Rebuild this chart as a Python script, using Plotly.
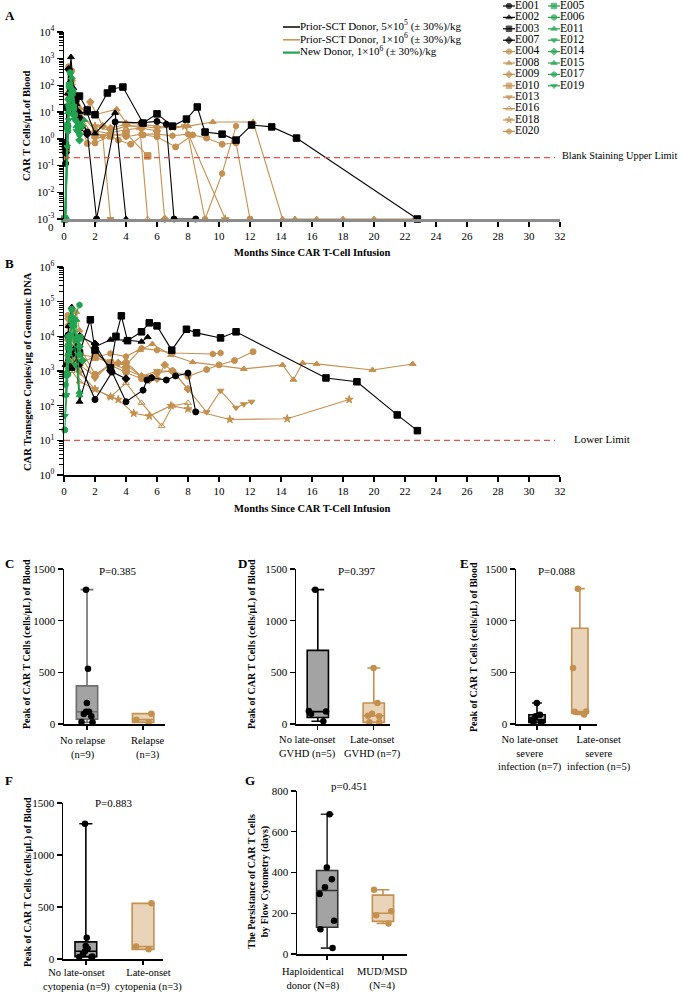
import numpy as np
import plotly.graph_objects as go

W, H = 681, 992
FONT = "Liberation Serif"
BLACK = "#000000"
TAN = "#c4904f"
GREEN = "#22a34f"
RED = "#e0534a"
BOX_GREY = "#a3a3a3"
BOX_TAN = "#e9d4b9"

BLANK_LIMIT = 0.2      # cells/uL, blank staining upper limit (panel A)
LOWER_LIMIT = 10       # copies/ug, lower limit (panel B)
ZERO_LEVEL = 1e-3      # undetectable (0) values sit on the "0" baseline of panel A

BLACK_IDS = ["E001", "E002", "E003", "E007"]
TAN_IDS = ["E004", "E008", "E009", "E010", "E013", "E016", "E018", "E020"]
GREEN_IDS = ["E005", "E006", "E011", "E012", "E014", "E015", "E017", "E019"]

# ---------------- Panel A: CAR T cells / uL of blood (months, value) ----------------
E001_A_t = [0.1, 0.25, 0.4, 0.55, 0.75, 1.0, 1.5, 2.1, 3.3, 5.0, 6.0, 6.6, 7.1, 8.5]
E001_A_v = [0.12, 3, 120, 60, 25, 6, 1.8, 0, 4.3, 4.0, 4.5, 3.5, 0, 0]
E002_A_t = [0.1, 0.25, 0.45, 0.6, 0.8, 1.0, 1.5, 2.0, 3.3, 4.0]
E002_A_v = [0.8, 50, 1150, 80, 20, 10, 9, 1.6, 9.4, 0]
E003_A_t = [0.1, 0.25, 0.5, 0.75, 1.0, 1.5, 2.0, 2.8, 3.1, 3.8, 5.1, 6.0, 7.0, 7.9, 8.6, 9.1, 10.2, 11.1, 12.1, 13.4, 15.0, 22.8]
E003_A_v = [0.5, 15, 25, 30, 40, 12, 8, 52, 74, 87, 3.9, 8.6, 3.0, 5.5, 15.6, 1.8, 1.5, 0.9, 3.3, 2.8, 1.07, 0]
E007_A_t = [0.1, 0.3, 0.5, 0.7, 1.0, 1.5]
E007_A_v = [0.3, 400, 50, 10, 2.5, 1.5]

E004_A_t = [0.1, 0.3, 0.5, 0.75, 1.0, 1.5, 2.0, 3.0, 3.5, 4.3, 5.1, 6.0, 7.2, 8.3, 9.2, 10.2, 11.1, 12.0]
E004_A_v = [0.3, 500, 350, 20, 5, 0.67, 0.7, 1.3, 0.9, 0.63, 1.4, 1.2, 0.5, 1.4, 1.07, 0.63, 0.7, 0]
E008_A_t = [0.1, 0.3, 0.5, 0.8, 1.0, 1.5, 2.0, 3.4, 4.0, 5.0, 6.0, 7.0, 8.0, 9.6, 12.2, 14.1, 14.9, 16.3, 18.0, 20.0, 22.6]
E008_A_v = [0.3, 60, 200, 30, 15, 10, 8, 13, 4, 3.5, 3, 2.5, 3, 4.3, 4.3, 0, 0, 0, 0, 0, 0]
E009_A_t = [0.1, 0.3, 0.5, 0.8, 1.0, 1.7, 2.5, 3.0, 4.0, 5.0, 6.0, 6.5]
E009_A_v = [0.5, 50, 150, 20, 6, 24, 3, 2.5, 3.5, 2.5, 2.0, 0]
E010_A_t = [0.15, 0.4, 0.7, 1.0, 2.0, 3.0, 4.0, 5.4]
E010_A_v = [0.4, 40, 10, 3, 1.5, 1.3, 1.6, 0.23]
E013_A_t = [0.1, 0.3, 0.5, 1.0, 2.0, 2.5, 3.0]
E013_A_v = [0.2, 30, 80, 8, 1.0, 1.2, 0]
E016_A_t = [0.1, 0.3, 0.6, 1.0, 2.0, 3.0, 4.0, 4.9, 5.4]
E016_A_v = [0.2, 15, 30, 4, 1.2, 1.7, 2.2, 2.5, 0]
E018_A_t = [0.1, 0.3, 0.5, 1.0, 2.0, 3.0, 4.0, 5.0, 6.0, 7.0, 7.8, 10.4]
E018_A_v = [0.3, 40, 100, 8, 3, 2, 3, 3, 2.5, 2.8, 3.0, 0]
E020_A_t = [0.1, 0.3, 0.5, 1.0, 2.0, 3.0, 4.0, 5.0, 6.0, 7.0, 8.0, 9.1, 10.2, 11.1]
E020_A_v = [0.2, 30, 90, 10, 2, 1.5, 1.2, 1.5, 1.5, 1.3, 1.5, 0, 0.05, 3.0]

E005_A_t = [0.05, 0.2, 0.35, 0.6, 1.0]
E005_A_v = [0, 3, 100, 15, 3]
E006_A_t = [0.05, 0.25, 0.4, 0.7, 1.0]
E006_A_v = [0, 2, 300, 8, 1.5]
E011_A_t = [0.1, 0.3, 0.5, 0.8, 1.2]
E011_A_v = [0, 20, 80, 5, 3.3]
E012_A_t = [0.05, 0.2, 0.4, 0.7]
E012_A_v = [0, 0.5, 50, 5]
E014_A_t = [0.1, 0.3, 0.6, 1.0]
E014_A_v = [0, 30, 8, 0.9]
E015_A_t = [0.1, 0.25, 0.5, 0.8, 1.3]
E015_A_v = [0, 10, 200, 3, 5]
E017_A_t = [0.1, 0.3, 0.6, 0.9, 1.1]
E017_A_v = [0, 15, 60, 2, 3]
E019_A_t = [0.1, 0.3, 0.5, 0.8]
E019_A_v = [0, 5, 40, 2]

# ---------------- Panel B: CAR transgene copies / ug genomic DNA ----------------
E001_B_t = [0.27, 0.5, 1.0, 2.0, 3.1, 4.0, 5.1, 5.35, 5.65, 6.6, 7.2, 8.0, 8.5]
E001_B_v = [11000, 4000, 1600, 150, 930, 130, 280, 550, 640, 550, 720, 870, 66]
E002_B_t = [0.1, 0.3, 0.5, 0.75, 1.0, 2.0, 3.0, 4.0, 5.0, 5.4]
E002_B_v = [1500, 20000, 70000, 5000, 130, 5000, 8000, 7800, 7000, 9500]
E003_B_t = [0.5, 1.0, 1.7, 2.0, 3.0, 3.35, 3.7, 4.1, 5.0, 5.5, 6.0, 6.95, 7.9, 8.55, 10.1, 11.1, 16.9, 18.9, 21.5, 22.8]
E003_B_v = [1300, 3300, 30000, 4000, 1240, 10000, 39000, 7500, 13500, 24500, 20000, 4000, 16000, 12600, 9000, 13500, 630, 490, 54, 19]
E007_B_t = [0.25, 0.5, 1.0, 2.0, 3.0, 4.0]
E007_B_v = [10000, 3000, 10000, 6000, 1000, 600]

E004_B_t = [0.25, 0.5, 1.0, 2.0, 3.0, 4.0, 5.0, 6.0, 7.0, 8.0, 9.2, 10.0, 11.0, 12.2]
E004_B_v = [40000, 10000, 5000, 800, 1500, 900, 600, 900, 1000, 700, 1100, 1500, 2000, 3600]
E008_B_t = [0.25, 0.5, 0.8, 1.0, 2.0, 3.0, 4.0, 4.9, 5.7, 6.9, 8.3, 11.6, 14.1, 14.8, 15.4, 16.3, 19.9, 22.5]
E008_B_v = [2000, 10000, 50000, 15000, 3000, 1800, 1500, 4000, 6000, 2900, 1800, 1150, 1500, 560, 1700, 1600, 1070, 1600]
E009_B_t = [0.25, 0.5, 1.0, 2.0, 3.0, 3.5, 4.0, 5.0, 5.5, 6.0, 6.5, 7.0, 8.0]
E009_B_v = [8000, 3000, 1500, 700, 1700, 1700, 1800, 700, 550, 600, 1500, 1000, 300]
E010_B_t = [0.25, 0.5, 1.0, 2.0, 3.0, 4.0, 5.4]
E010_B_v = [1500, 2000, 1800, 2500, 1700, 1100, 600]
E013_B_t = [0.25, 0.5, 1.0, 2.0, 3.0, 4.0, 5.0, 6.0, 7.0, 8.0, 9.2, 10.1, 11.1, 11.6, 12.1]
E013_B_v = [30000, 8000, 3000, 600, 1700, 1500, 700, 1000, 1000, 300, 65, 270, 87, 110, 130]
E016_B_t = [0.25, 0.5, 1.0, 2.0, 3.0, 4.0, 5.0, 6.3, 7.0, 8.0]
E016_B_v = [3000, 1000, 500, 300, 180, 450, 120, 26, 100, 120]
E018_B_t = [0.25, 0.5, 1.0, 2.0, 3.0, 3.5, 4.5, 5.5, 6.9, 8.0, 10.7, 14.4, 18.4]
E018_B_v = [5000, 2500, 900, 300, 180, 150, 60, 50, 100, 80, 40, 42, 150]
E020_B_t = [0.25, 0.5, 1.0, 2.0, 3.0, 4.0, 5.0, 6.0, 7.0, 9.6, 10.1]
E020_B_v = [20000, 5000, 3000, 2500, 3200, 2600, 4500, 4000, 3300, 3100, 3300]

E005_B_t = [0.1, 0.3, 0.5, 0.8, 1.0]
E005_B_v = [800, 5000, 30000, 8000, 9000]
E006_B_t = [0.05, 0.25, 0.5, 1.0]
E006_B_v = [20, 800, 60000, 3000]
E011_B_t = [0.1, 0.3, 0.5, 1.0]
E011_B_v = [800, 3000, 40000, 200]
E012_B_t = [0.05, 0.15, 0.3, 0.5]
E012_B_v = [50, 200, 3000, 20000]
E014_B_t = [0.1, 0.3, 0.6, 1.0, 1.2]
E014_B_v = [800, 10000, 20000, 5000, 2000]
E015_B_t = [0.1, 0.3, 0.5, 0.8, 1.0]
E015_B_v = [200, 2000, 10000, 30000, 250]
E017_B_t = [0.1, 0.3, 0.6, 1.0]
E017_B_v = [400, 8000, 30000, 80000]
E019_B_t = [0.1, 0.2, 0.4, 0.7]
E019_B_v = [200, 800, 4000, 1500]

# ---------------- Panels C-G: box plot samples ----------------
C_LABELS = ["No relapse<br>(n=9)", "Relapse<br>(n=3)"]
C_NO_RELAPSE = [1300, 535, 203, 119, 119, 97, 74, 20, 16]
C_RELAPSE = [100, 42, 16]
D_LABELS = ["No late-onset<br>GVHD (n=5)", "Late-onset<br>GVHD (n=7)"]
D_NO_GVHD = [1300, 125, 120, 100, 26]
D_GVHD = [542, 203, 100, 80, 74, 16, 16]
E_LABELS = ["No late-onset<br>severe<br>infection (n=7)", "Late-onset<br>severe<br>infection (n=5)"]
E_NO_INFECTION = [203, 90, 74, 40, 20, 16, 16]
E_INFECTION = [1310, 542, 120, 118, 92]
F_LABELS = ["No late-onset<br>cytopenia (n=9)", "Late-onset<br>cytopenia (n=3)"]
F_NO_CYTOPENIA = [1300, 205, 125, 100, 75, 45, 25, 20, 20]
F_CYTOPENIA = [535, 120, 93]
G_LABELS = ["Haploidentical<br>donor (N=8)", "MUD/MSD<br>(N=4)"]
G_HAPLO = [686, 424, 367, 328, 295, 163, 121, 29]
G_MUD_MSD = [315, 210, 190, 150]

P_VALUES = {"C": "P=0.385", "D": "P=0.397", "E": "P=0.088", "F": "P=0.883", "G": "p=0.451"}

SYMBOLS = {
    "E001": "circle", "E002": "triangle-up", "E003": "square", "E007": "diamond",
    "E004": "circle", "E008": "triangle-up", "E009": "diamond", "E010": "square",
    "E013": "triangle-down", "E016": "triangle-up-open", "E018": "star", "E020": "hexagon",
    "E005": "square", "E006": "circle", "E011": "triangle-up", "E012": "triangle-down",
    "E014": "diamond", "E015": "triangle-up", "E017": "hexagon", "E019": "triangle-down",
}

g = globals()
A_DATA = {pid: (g[pid + "_A_t"], g[pid + "_A_v"]) for pid in BLACK_IDS + TAN_IDS + GREEN_IDS}
B_DATA = {pid: (g[pid + "_B_t"], g[pid + "_B_v"]) for pid in BLACK_IDS + TAN_IDS + GREEN_IDS}


def fx(p):
    return p / W


def fy(p):
    return 1 - p / H


fig = go.Figure()
tfont = dict(family=FONT, size=11, color="black")


def add_series(data, ids, color, xa, ya, floor_zero):
    for pid in ids:
        t, v = data[pid]
        v = np.asarray(v, dtype=float)
        if floor_zero:
            v = np.where(v <= 0, ZERO_LEVEL, v)
        msize = 6.5 if SYMBOLS[pid] == "square" else 6
        fig.add_trace(go.Scatter(
            x=t, y=v, mode="lines+markers", xaxis=xa, yaxis=ya,
            line=dict(color=color, width=1.1),
            marker=dict(symbol=SYMBOLS[pid], size=msize, color=color,
                        line=dict(color=color, width=1)),
            cliponaxis=False, showlegend=False, name=pid))


for data, xa, ya, fl in [(A_DATA, "x", "y", True), (B_DATA, "x2", "y2", False)]:
    add_series(data, TAN_IDS, TAN, xa, ya, fl)
    add_series(data, BLACK_IDS, BLACK, xa, ya, fl)
    add_series(data, GREEN_IDS, GREEN, xa, ya, fl)

# ---------------- box plots ----------------
BOXW = 0.38


def add_box(label, vals, fill, lcolor, pcolor, xa, ya):
    a = np.asarray(vals, dtype=float)
    q1, med, q3 = np.percentile(a, [25, 50, 75], method="weibull")
    fig.add_trace(go.Box(
        x=[label], q1=[q1], median=[med], q3=[q3], lowerfence=[a.min()], upperfence=[a.max()],
        boxpoints=False, fillcolor=fill, line=dict(color=lcolor, width=1.6),
        width=BOXW, whiskerwidth=0.6, xaxis=xa, yaxis=ya, showlegend=False, hoverinfo="skip"))
    fig.add_trace(go.Box(
        x=[label] * len(a), y=a, boxpoints="all", jitter=1.0, pointpos=0,
        fillcolor="rgba(0,0,0,0)", line=dict(color=pcolor, width=0),
        marker=dict(color=pcolor, size=6.5), width=BOXW,
        xaxis=xa, yaxis=ya, showlegend=False))


box_panels = [
    ("x3", "y3", C_LABELS, C_NO_RELAPSE, C_RELAPSE, "#6e6e6e"),
    ("x4", "y4", D_LABELS, D_NO_GVHD, D_GVHD, BLACK),
    ("x5", "y5", E_LABELS, E_NO_INFECTION, E_INFECTION, BLACK),
    ("x6", "y6", F_LABELS, F_NO_CYTOPENIA, F_CYTOPENIA, BLACK),
    ("x7", "y7", G_LABELS, G_HAPLO, G_MUD_MSD, "#333333"),
]
for xa, ya, labels, g1, g2, l1 in box_panels:
    add_box(labels[0], g1, BOX_GREY, l1, BLACK, xa, ya)
    add_box(labels[1], g2, BOX_TAN, TAN, TAN, xa, ya)

# ---------------- legend keys (drawn on a hidden pixel-unit axis) ----------------
LINE_LEGEND = [
    ("Prior-SCT Donor, 5×10<sup>5</sup> (± 30%)/kg", BLACK, 1.5),
    ("Prior-SCT Donor, 1×10<sup>6</sup> (± 30%)/kg", TAN, 1.5),
    ("New Donor, 1×10<sup>6</sup> (± 30%)/kg", GREEN, 2.2),
]
for r, (label, col, lw) in enumerate(LINE_LEGEND):
    yy = 27 + 12.8 * r
    fig.add_trace(go.Scatter(
        x=[283, 300], y=[yy, yy], mode="lines+text", text=["", label], textposition="middle right",
        textfont=dict(family=FONT, size=11, color="black"), line=dict(color=col, width=lw),
        xaxis="x8", yaxis="y8", cliponaxis=False, showlegend=False, hoverinfo="skip"))

LEGEND_COLUMNS = [(503, BLACK_IDS + TAN_IDS), (548, GREEN_IDS)]
for x0, ids in LEGEND_COLUMNS:
    for r, pid in enumerate(ids):
        col = BLACK if pid in BLACK_IDS else (TAN if pid in TAN_IDS else GREEN)
        yy = 6 + 11.4 * r
        fig.add_trace(go.Scatter(
            x=[x0, x0 + 6, x0 + 12], y=[yy] * 3, mode="lines+markers+text",
            text=["", "", pid], textposition="middle right",
            textfont=dict(family=FONT, size=11.5, color="black"),
            line=dict(color=col, width=1.2),
            marker=dict(symbol=SYMBOLS[pid], size=[0, 5.5, 0], color=col, line=dict(color=col, width=1)),
            xaxis="x8", yaxis="y8", cliponaxis=False, showlegend=False, hoverinfo="skip"))

# ---------------- axes ----------------
common = dict(showgrid=False, zeroline=False, showline=True, ticks="outside", automargin=False,
              tickfont=tfont, tickcolor="black", linecolor="black", linewidth=1.5, tickwidth=1.3)

decA = list(range(-3, 5))
decB = list(range(0, 7))
minorA = [k * 10.0 ** e for e in range(-3, 4) for k in range(2, 10)]
minorB = [k * 10.0 ** e for e in range(0, 6) for k in range(2, 10)]

xA = dict(domain=[fx(64), fx(560)], range=[0, 32], dtick=2, tick0=0, ticklen=5, anchor="y", **common)
xA["linecolor"] = "#8c8c8c"
xA["linewidth"] = 2.5
xB = dict(domain=[fx(64), fx(560)], range=[0, 32], dtick=2, tick0=0, ticklen=5, anchor="y2", **common)

yA = dict(domain=[fy(219), fy(32)], type="log", range=[-3, 4],
          tickvals=[10.0 ** e for e in decA], ticktext=["10<sup>%d</sup>" % e for e in decA],
          ticklen=6, anchor="x",
          minor=dict(tickvals=minorA, ticks="outside", ticklen=3.5, tickcolor="black", tickwidth=1, showgrid=False),
          **common)
yB = dict(domain=[fy(475), fy(267)], type="log", range=[0, 6],
          tickvals=[10.0 ** e for e in decB], ticktext=["10<sup>%d</sup>" % e for e in decB],
          ticklen=6, anchor="x2",
          minor=dict(tickvals=minorB, ticks="outside", ticklen=3.5, tickcolor="black", tickwidth=1, showgrid=False),
          **common)

layout_axes = dict(xaxis=xA, yaxis=yA, xaxis2=xB, yaxis2=yB)

box_geom = {
    3: ((64, 165), (724, 569), (-0.41, 1.39), 1500, 500),
    4: ((296, 390), (724, 569), (-0.39, 1.29), 1500, 500),
    5: ((516, 597), (724, 569), (-0.49, 1.40), 1500, 500),
    6: ((63, 163), (959, 803), (-0.40, 1.35), 1500, 500),
    7: ((297, 407), (954, 791), (-0.54, 1.43), 800, 200),
}
for i, ((xl, xr), (yb, yt), xr_rng, ymax, ystep) in box_geom.items():
    layout_axes["xaxis%d" % i] = dict(domain=[fx(xl), fx(xr)], type="category", range=list(xr_rng),
                                      ticklen=4, showticklabels=False, anchor="y%d" % i, **common)
    layout_axes["yaxis%d" % i] = dict(domain=[fy(yb), fy(yt)], range=[0, ymax],
                                      tickvals=list(range(0, ymax + 1, ystep)), ticklen=5,
                                      anchor="x%d" % i, **common)

layout_axes["xaxis8"] = dict(domain=[0, 1], range=[0, W], visible=False, anchor="y8",
                             fixedrange=True, automargin=False)
layout_axes["yaxis8"] = dict(domain=[fy(140), 1], range=[140, 0], visible=False, anchor="x8",
                             fixedrange=True, automargin=False)

# ---------------- reference lines ----------------
shapes = [
    dict(type="line", xref="x domain", yref="y", x0=0, x1=0.99, y0=BLANK_LIMIT, y1=BLANK_LIMIT,
         line=dict(color=RED, width=1.2, dash="6px,4px")),
    dict(type="line", xref="x2 domain", yref="y2", x0=0, x1=0.99, y0=LOWER_LIMIT, y1=LOWER_LIMIT,
         line=dict(color=RED, width=1.2, dash="6px,4px")),
]

# ---------------- annotations ----------------
ann = []


def txt(x, y, s, size=11, bold=False, angle=0, xanchor="center", yanchor="middle"):
    if bold:
        s = "<b>%s</b>" % s
    ann.append(dict(x=fx(x), y=fy(y), xref="paper", yref="paper", text=s, showarrow=False,
                    textangle=angle, xanchor=xanchor, yanchor=yanchor,
                    font=dict(family=FONT, size=size, color="black")))


for letter, (lx, ly) in {"A": (3, 15), "B": (3, 263), "C": (3, 563), "D": (236, 563),
                         "E": (458, 563), "F": (3, 780), "G": (243, 780)}.items():
    txt(lx, ly, letter, size=13, bold=True, xanchor="left")

txt(312, 252, "Months Since CAR T-Cell Infusion", size=10.5, bold=True)
txt(312, 508, "Months Since CAR T-Cell Infusion", size=10.5, bold=True)
txt(27, 126, "CAR T Cells/μLof Blood", size=10.5, bold=True, angle=-90)
txt(27, 372, "CAR Transgene Copies/μg of Genomic DNA", size=10.5, bold=True, angle=-90)
txt(560, 156, "Blank Staining Upper Limit", size=10.3, xanchor="left")
txt(572, 439, "Lower Limit", size=11, xanchor="left")

peak_title = "Peak of CAR T Cells (cells/μL) of Blood"
txt(27, 644, peak_title, size=10, bold=True, angle=-90)
txt(252, 644, peak_title, size=10, bold=True, angle=-90)
txt(474, 647, peak_title, size=10, bold=True, angle=-90)
txt(28, 882, peak_title, size=10, bold=True, angle=-90)
txt(258, 882, "The Persistance of CAR T Cells<br>by Flow Cytometry (days)", size=10, bold=True, angle=-90)

txt(118, 571, P_VALUES["C"])
txt(357, 571, P_VALUES["D"])
txt(557, 571, P_VALUES["E"])
txt(114, 803, P_VALUES["F"])
txt(349, 786, P_VALUES["G"])

# category labels under the box plots (centres as placed in the reference)
CAT_LABEL_POS = [
    (C_LABELS, (83, 148), 733),
    (D_LABELS, (307, 372), 732),
    (E_LABELS, (530, 599), 732),
    (F_LABELS, (76, 148), 965),
    (G_LABELS, (313, 382), 964),
]
for labels, xs, ytop in CAT_LABEL_POS:
    for lab, xc in zip(labels, xs):
        txt(xc, ytop, lab, size=10.5, yanchor="top")

# "0" baseline label of panel A
ann.append(dict(x=0, y=np.log10(ZERO_LEVEL), xref="x", yref="y", text="0", showarrow=False,
                xanchor="right", yanchor="middle", xshift=-8, yshift=-8,
                font=dict(family=FONT, size=11, color="black")))

fig.update_layout(
    width=W, height=H, margin=dict(l=0, r=0, t=0, b=0, autoexpand=False),
    paper_bgcolor="white", plot_bgcolor="rgba(0,0,0,0)", showlegend=False,
    font=dict(family=FONT, size=11, color="black"),
    boxmode="overlay", shapes=shapes, annotations=ann, **layout_axes)

fig.write_html("out.html", config={"displayModeBar": False, "staticPlot": True},
               post_script="document.body.style.margin='0';document.body.style.overflow='hidden';")
